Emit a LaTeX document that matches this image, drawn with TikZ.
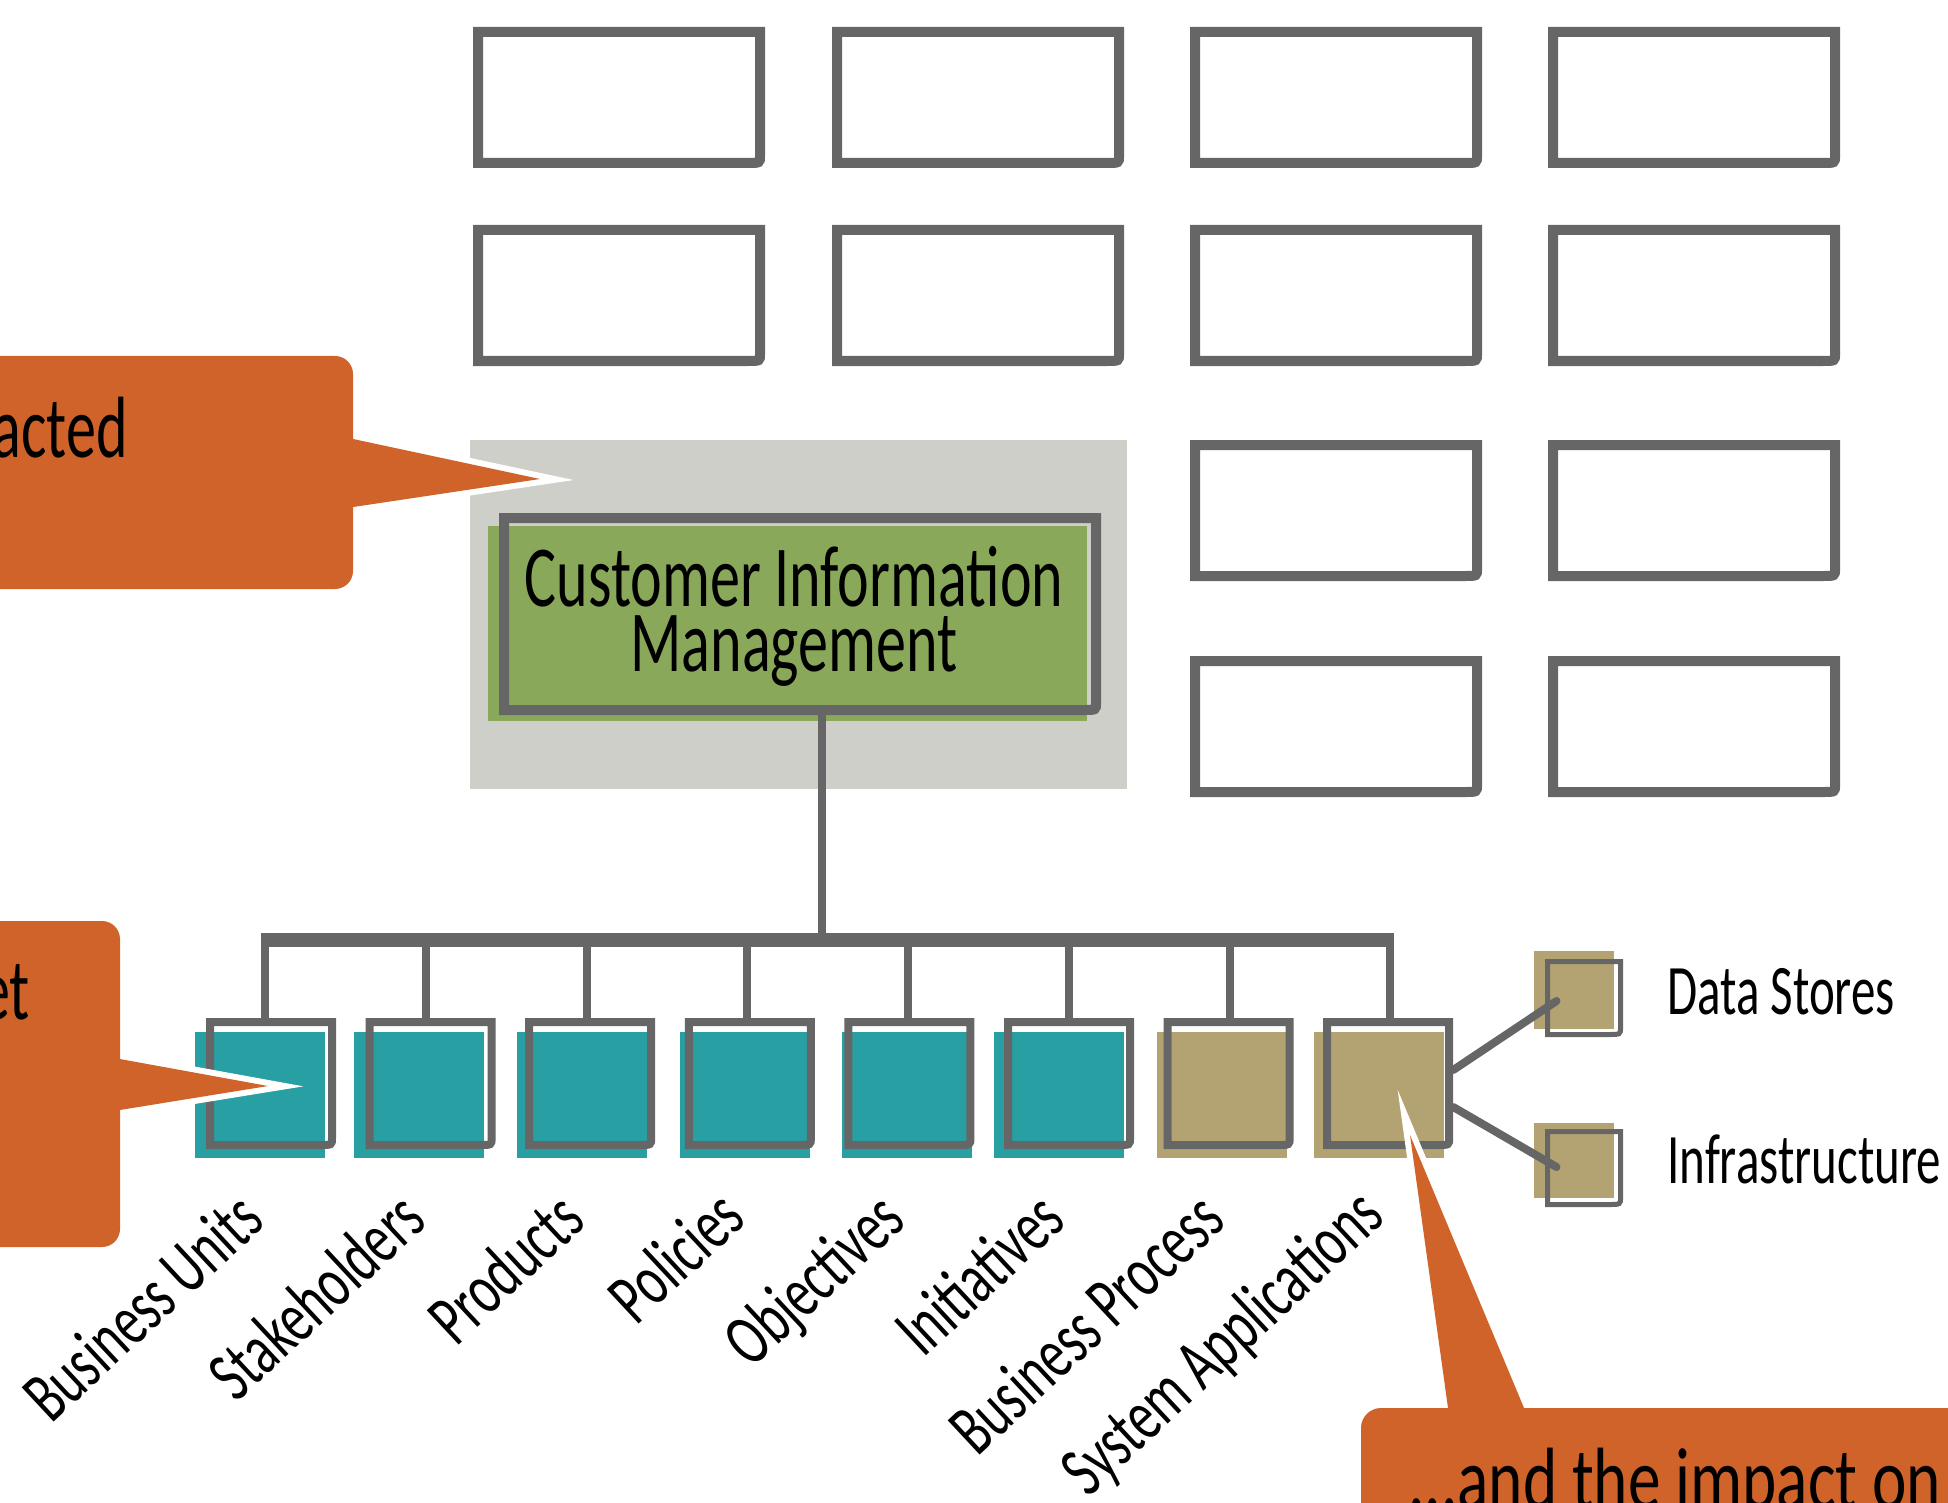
\documentclass[tikz,border=0pt]{standalone}
\usepackage{fontspec}
\newfontfamily\hand[FakeStretch=0.69]{Carlito}
\newfontfamily\handw[FakeStretch=0.75]{Carlito}
\usetikzlibrary{calc}
\definecolor{frameg}{HTML}{666666}
\definecolor{orng}{HTML}{CF632A}
\definecolor{tealc}{HTML}{289FA3}
\definecolor{tanc}{HTML}{B4A372}
\definecolor{greenc}{HTML}{89A85A}
\definecolor{bggray}{HTML}{CECFC8}
\newcommand\skframe[2]{%
  \draw[draw=frameg,line width=#2,line join=miter]
    (#1.north west) -- (#1.north east) -- ([yshift=7pt]#1.south east)
    .. controls (#1.south east) .. ([xshift=-12pt]#1.south east)
    -- (#1.south west) -- cycle;}
\newcommand\pointer[3]{%
  \draw[white,line width=12pt,line join=miter,miter limit=14] #1 -- #2 -- #3 -- cycle;
  \fill[orng] #1 -- #2 -- #3 -- cycle;}
\begin{document}
\begin{tikzpicture}[x=1pt,y=-1pt,
  blank/.style={inner sep=0pt,outer sep=0pt,draw=none},
  topbox/.style={blank,minimum width=282,minimum height=131},
  subbox/.style={blank,minimum width=122,minimum height=123},
  minibox/.style={blank,minimum width=73,minimum height=73},
  lbl/.style={inner sep=0pt,font=\hand\fontsize{71}{80}\selectfont,text=black},
  lblrot/.style={inner sep=0pt,font=\hand\fontsize{73}{80}\selectfont,text=black,anchor=base east,rotate=43},
  calltext/.style={inner sep=0pt,font=\hand\fontsize{87}{80}\selectfont,text=black},
  tree/.style={draw=frameg,line width=8pt},
  bar/.style={draw=frameg,line width=14pt},
  conn/.style={draw=frameg,line width=8pt,line cap=round},
  callout/.style={fill=orng,rounded corners=18pt}]
\useasboundingbox (0,0) rectangle (1948,1503);
\clip (0,0) rectangle (1948,1503);

% ---- top grid of empty boxes
\node[topbox] (t1) at (619,97.5) {};
\node[topbox] (t2) at (978,97.5) {};
\node[topbox] (t3) at (1336,97.5) {};
\node[topbox] (t4) at (1694,97.5) {};
\node[topbox] (t5) at (619,295.5) {};
\node[topbox] (t6) at (978,295.5) {};
\node[topbox] (t7) at (1336,295.5) {};
\node[topbox] (t8) at (1694,295.5) {};
\node[topbox] (t9) at (1336,510.5) {};
\node[topbox] (t10) at (1694,510.5) {};
\node[topbox] (t11) at (1336,726.5) {};
\node[topbox] (t12) at (1694,726.5) {};
\foreach \n in {t1,t2,t3,t4,t5,t6,t7,t8,t9,t10,t11,t12}{\skframe{\n}{10pt}}

% ---- Customer Information Management
\fill[bggray] (470,440) rectangle (1127,789);
\fill[greenc] (488,526) rectangle (1087,721);
\node[blank,minimum width=592,minimum height=192] (cim) at (800,614) {};
\skframe{cim}{10pt}
\node[inner sep=0pt,font=\hand\fontsize{87}{65}\selectfont,align=center] (cimtext) at (794,616) {Customer Information\\Management};

% ---- coloured fills of the sub boxes
\fill[tealc] (195,1032) rectangle +(130,126);
\fill[tealc] (354,1032) rectangle +(130,126);
\fill[tealc] (517,1032) rectangle +(130,126);
\fill[tealc] (680,1032) rectangle +(130,126);
\fill[tealc] (842,1032) rectangle +(130,126);
\fill[tealc] (994,1032) rectangle +(130,126);
\fill[tanc] (1157,1032) rectangle +(130,126);
\fill[tanc] (1314,1032) rectangle +(130,126);
\fill[tanc] (1534,951) rectangle (1614,1029);
\fill[tanc] (1534,1123) rectangle (1614,1198);

% ---- sub box frames
\node[subbox] (b1) at (271,1083.5) {};
\node[subbox] (b2) at (430.6,1083.5) {};
\node[subbox] (b3) at (590.2,1083.5) {};
\node[subbox] (b4) at (749.8,1083.5) {};
\node[subbox] (b5) at (909.4,1083.5) {};
\node[subbox] (b6) at (1069,1083.5) {};
\node[subbox] (b7) at (1228.6,1083.5) {};
\node[subbox] (b8) at (1388.2,1083.5) {};
\node[minibox] (ds) at (1584,998) {};
\node[minibox] (inf) at (1584,1168) {};

% ---- connectors to the small boxes
\draw[conn] ($(b8.east)+(4,-13.5)$) -- ($(ds.west)+(9,3)$);
\draw[conn] ($(b8.east)+(4,23.5)$) -- ($(inf.west)+(9,-1)$);

\foreach \n in {b1,b2,b3,b4,b5,b6,b7,b8}{\skframe{\n}{8pt}}
\skframe{ds}{5pt}
\skframe{inf}{5pt}

% ---- tree
\coordinate (bary) at (0,940);
\draw[bar] ([xshift=-10pt]b1.north |- bary) -- ([xshift=6pt]b8.north |- bary);
\foreach \n/\dx in {b1/-6,b2/-4.6,b3/-3.2,b4/-2.8,b5/-1.4,b6/0,b7/1.4,b8/1.8}{
  \draw[tree] ([xshift=\dx pt]\n.north |- bary) -- ([xshift=\dx pt]\n.north);}
\draw[tree] ([xshift=22pt]cim.south) -- ([xshift=22pt]cim.south |- bary);

% ---- labels
\node[lbl,anchor=base west] (lds) at (1667,1014) {Data Stores};
\node[lbl,anchor=base west] (linf) at (1667,1183) {Infrastructure};
\node[lblrot] (l1) at (267,1224) {Business Units};
\node[lblrot] (l2) at (429,1224) {Stakeholders};
\node[lblrot] (l3) at (588,1224) {Products};
\node[lblrot] (l4) at (748,1222) {Policies};
\node[lblrot] (l5) at (908,1224) {Objectives};
\node[lblrot] (l6) at (1068,1224) {Initiatives};
\node[lblrot] (l7) at (1228,1224) {Business Process};
\node[lblrot] (l8) at (1387,1220) {System Applications};

% ---- callouts
\pointer{(340,436.2)}{(540,479)}{(340,509)}
\fill[callout] (-40,356) rectangle (353,589);
\node[calltext,anchor=base east] (c1) at (128,457) {acted};

\pointer{(110,1057.2)}{(268,1086)}{(110,1111.6)}
\fill[callout] (-40,921) rectangle (120,1247);
\node[calltext,anchor=base east] (c2) at (30,1019) {et};

\pointer{(1449.4,1418)}{(1410,1135)}{(1528.2,1418)}
\fill[callout,rounded corners=20pt] (1361,1408) rectangle (1990,1560);
\node[inner sep=0pt,font=\handw\fontsize{87}{80}\selectfont,anchor=base west] (c3) at (1408,1508) {...and the impact on};
\end{tikzpicture}
\end{document}
